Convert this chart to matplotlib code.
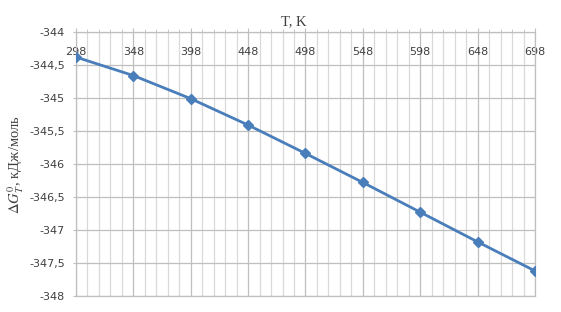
import matplotlib.pyplot as plt
from matplotlib.ticker import FixedLocator, MultipleLocator, FuncFormatter

T = [298, 348, 398, 448, 498, 548, 598, 648, 698]
dG = [-344.38, -344.66, -345.01, -345.41, -345.84, -346.28, -346.73, -347.18, -347.62]

plt.rcParams['mathtext.fontset'] = 'stix'

fig = plt.figure(figsize=(5.61, 3.12), dpi=100)
ax = fig.add_axes([76/561, 1 - 296/312, (535-76)/561, (296-32)/312])

ax.plot(T, dG, color='#4A7EBB', lw=2, marker='D', ms=5, zorder=3)

ax.set_xlim(T[0], T[-1])
ax.set_ylim(-348, -344)
ax.xaxis.set_major_locator(FixedLocator(T))
ax.xaxis.set_minor_locator(FixedLocator(list(range(T[0], T[-1] + 1, 10))))
ax.yaxis.set_major_locator(MultipleLocator(0.5))
ax.yaxis.set_major_formatter(FuncFormatter(lambda v, p: f'{v:g}'.replace('.', ',')))

ax.grid(which='minor', axis='x', color='#D9D9D9', lw=0.9)
ax.grid(which='major', axis='x', color='#BFBFBF', lw=0.9)
ax.grid(which='major', axis='y', color='#BFBFBF', lw=0.9)

for s in ax.spines.values():
    s.set_color('#BFBFBF')
    s.set_linewidth(0.9)

ax.tick_params(axis='x', which='both', top=True, bottom=False, labeltop=True, labelbottom=False, color='#BFBFBF')
ax.tick_params(axis='x', which='major', direction='out', length=3, pad=-14, labelsize=8, labelcolor='#404040')
ax.tick_params(axis='x', which='minor', direction='out', length=2)
ax.tick_params(axis='y', direction='out', length=2, color='#BFBFBF', labelsize=8, labelcolor='#404040', pad=6)
for lab in ax.get_xticklabels():
    lab.set_verticalalignment('top')

ax.set_xlabel('T, K', family='Liberation Serif', fontsize=10.5, color='#404040')
ax.xaxis.set_label_position('top')
ax.xaxis.set_label_coords(0.475, 1.015)
ax.xaxis.label.set_verticalalignment('bottom')
ax.set_ylabel(r'$\Delta G_T^0$, кДж/моль', family='Liberation Serif', fontsize=10.5, color='#404040')
ax.yaxis.set_label_coords(-0.108, 0.5)

fig.savefig('out.png', dpi=100)
